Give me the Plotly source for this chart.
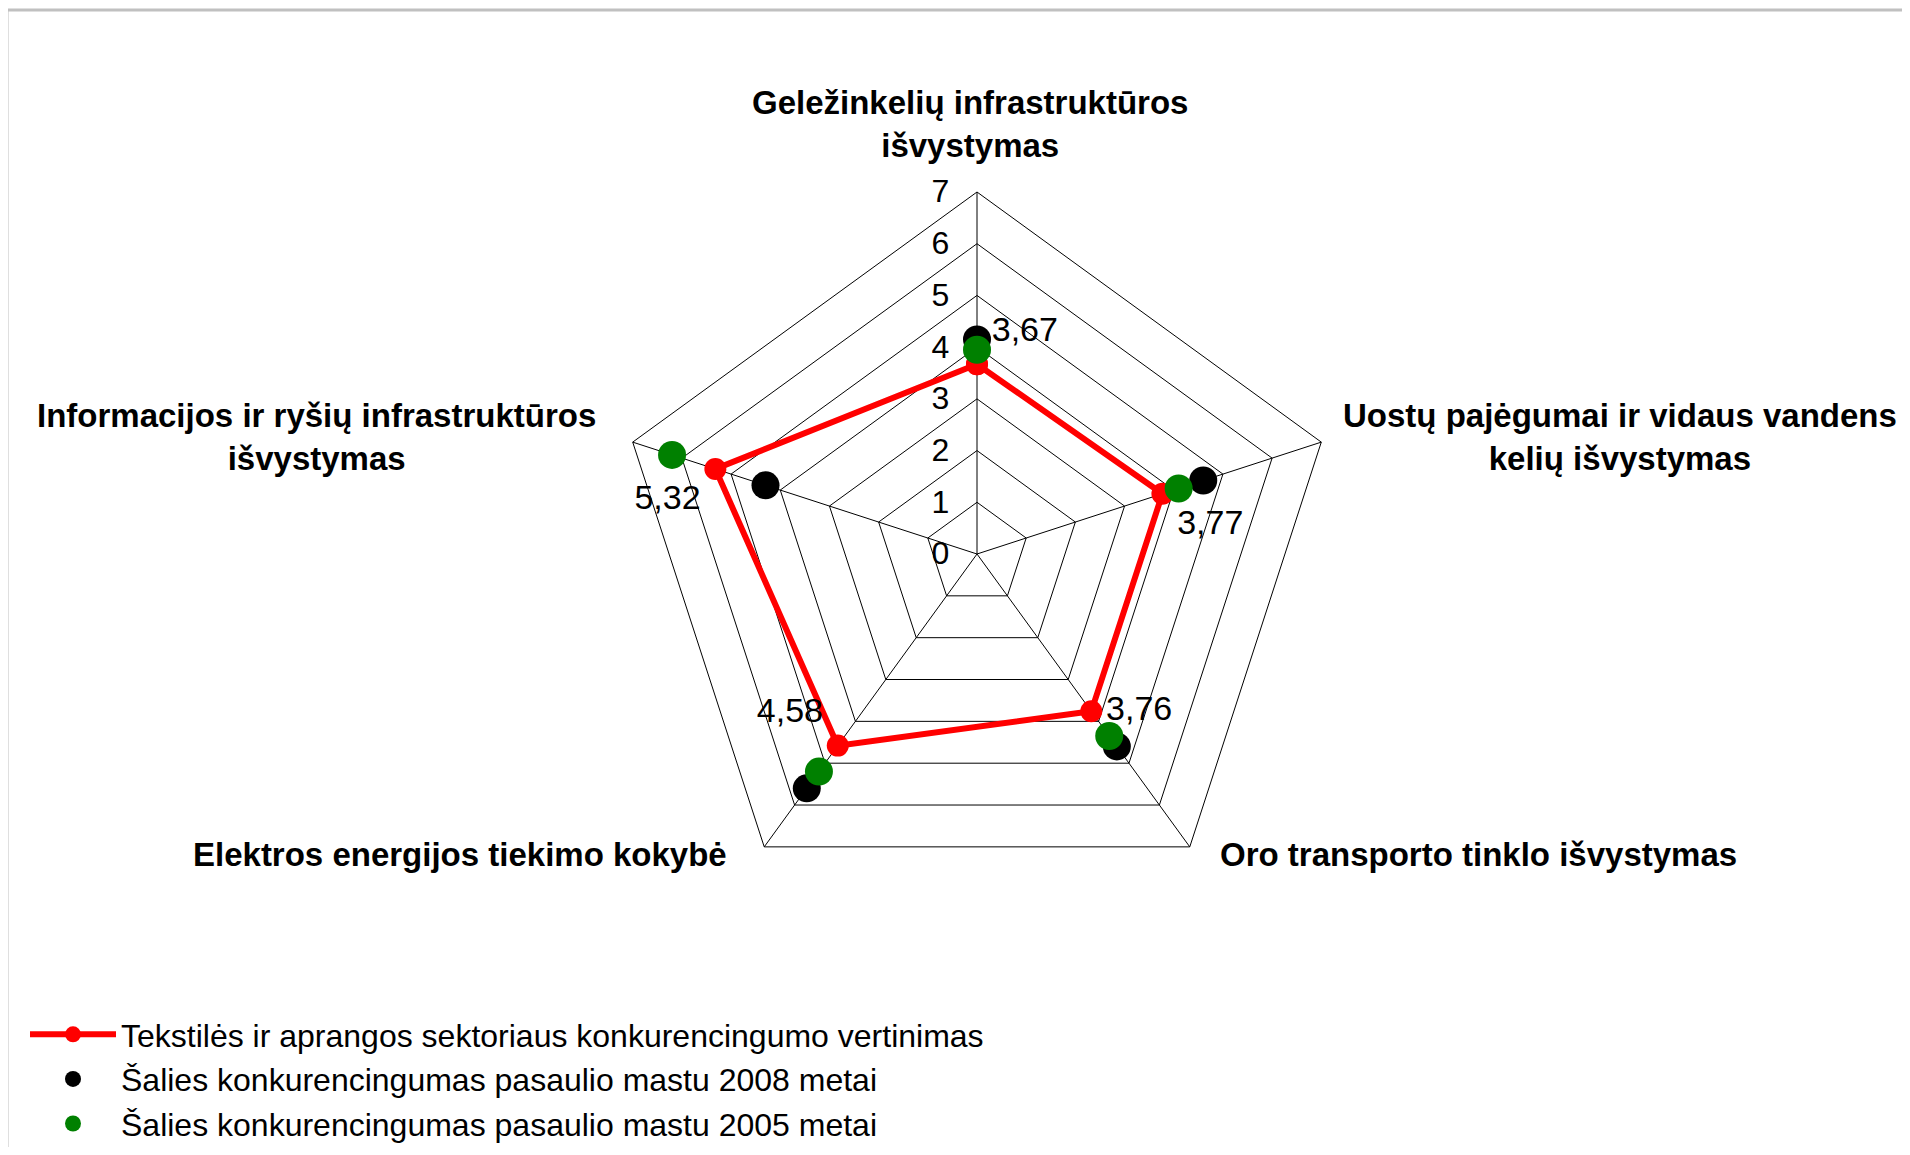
import plotly.graph_objects as go

# axis categories, clockwise from the top
categories = [
    "Geležinkelių infrastruktūros<br>išvystymas",
    "Uostų pajėgumai ir vidaus vandens<br>kelių išvystymas",
    "Oro transporto tinklo išvystymas",
    "Elektros energijos tiekimo kokybė",
    "Informacijos ir ryšių infrastruktūros<br>išvystymas",
]

sector_scores = [3.67, 3.77, 3.76, 4.58, 5.32]
country_2008 = [4.15, 4.6, 4.6, 5.6, 4.3]
country_2005 = [3.95, 4.1, 4.35, 5.2, 6.2]

series_names = [
    "Tekstilės ir aprangos sektoriaus konkurencingumo vertinimas",
    "Šalies konkurencingumas pasaulio mastu 2008 metai",
    "Šalies konkurencingumas pasaulio mastu 2005 metai",
]

radial_ticks = [0, 1, 2, 3, 4, 5, 6, 7]

# page is 1910x1155, the html body adds an 8px margin
PAGE_W, PAGE_H, BODY = 1910, 1155, 8
W, H = PAGE_W - 2 * BODY, PAGE_H - 2 * BODY
FONT = "Liberation Sans, Arial, sans-serif"


def px2x(px):
    return (px - BODY) / W


def py2y(py):
    return 1 - (py - BODY) / H


sector_text = [f"{v:.2f}".replace(".", ",") for v in sector_scores]
label_pos = ["top right", "bottom right", "middle right", "top left", "bottom left"]

fig = go.Figure()

# closed red polygon with value labels
fig.add_trace(go.Scatterpolar(
    r=sector_scores + sector_scores[:1],
    theta=categories + categories[:1],
    mode="lines+markers+text",
    text=sector_text + [""],
    textposition=label_pos + ["top right"],
    textfont=dict(family=FONT, size=34, color="black"),
    line=dict(color="#ff0000", width=6),
    marker=dict(color="#ff0000", size=22),
    name=series_names[0],
    cliponaxis=False,
))
fig.add_trace(go.Scatterpolar(
    r=country_2008, theta=categories, mode="markers",
    marker=dict(color="black", size=28),
    name=series_names[1], cliponaxis=False,
))
fig.add_trace(go.Scatterpolar(
    r=country_2005, theta=categories, mode="markers",
    marker=dict(color="#008000", size=28),
    name=series_names[2], cliponaxis=False,
))

# category labels placed around the web (page pixel centres)
label_xy = [(970, 124), (1620, 437), (1478, 854), (460, 854), (316, 437)]
for cat, (px, py) in zip(categories, label_xy):
    fig.add_annotation(
        x=px2x(px), y=py2y(py), xref="paper", yref="paper",
        xanchor="center", yanchor="middle",
        text=cat, showarrow=False, align="center",
        font=dict(family=FONT, size=33, color="black", weight="bold"),
    )

cx, cy, rad = 977, 554, 362
fig.update_layout(
    width=W, height=H,
    margin=dict(l=0, r=0, t=0, b=0, autoexpand=False),
    paper_bgcolor="white", plot_bgcolor="white",
    font=dict(family=FONT, size=30, color="black"),
    polar=dict(
        domain=dict(x=[px2x(cx - rad), px2x(cx + rad)],
                    y=[py2y(cy + rad), py2y(cy - rad)]),
        bgcolor="white",
        gridshape="linear",
        radialaxis=dict(
            range=[0, 7], tickvals=radial_ticks, angle=90, tickangle=90,
            side="counterclockwise", showline=False,
            ticks="outside", ticklen=16, tickcolor="rgba(0,0,0,0)",
            gridcolor="black", gridwidth=1,
            tickfont=dict(family=FONT, size=32, color="black"),
        ),
        angularaxis=dict(
            direction="clockwise", rotation=90,
            showticklabels=False, ticks="",
            showline=True, linecolor="black", linewidth=1,
            gridcolor="black", gridwidth=1,
        ),
    ),
    legend=dict(
        x=px2x(25), y=py2y(1007), xanchor="left", yanchor="top",
        itemwidth=86, bgcolor="rgba(0,0,0,0)",
        font=dict(family=FONT, size=32, color="black"),
    ),
    shapes=[dict(
        type="rect", xref="paper", yref="paper",
        x0=px2x(7), x1=1.02, y0=-0.02, y1=py2y(10),
        line=dict(color="#c0c0c0", width=3),
    )],
)

fig.write_html("out.html")
